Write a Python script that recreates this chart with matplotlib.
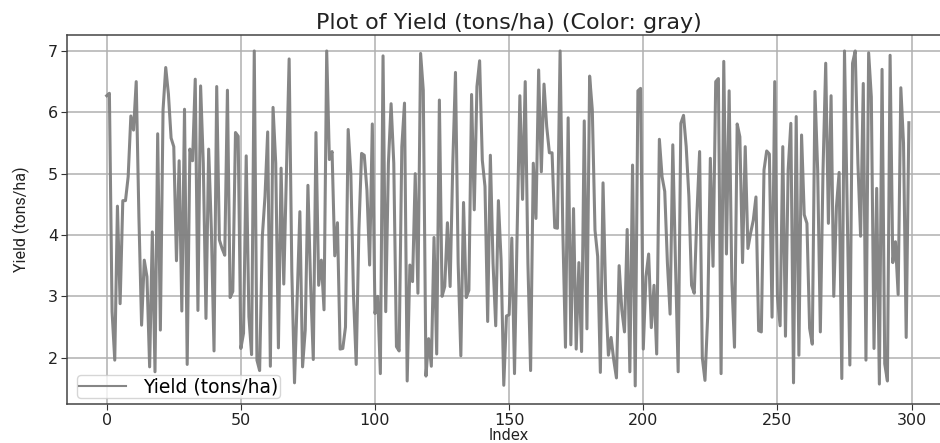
import matplotlib
matplotlib.use("Agg")
import matplotlib.pyplot as plt

series_name = "Yield (tons/ha)"
title = "Plot of Yield (tons/ha) (Color: gray)"
xlabel = "Index"
yield_a = [6.27,6.31,2.75,1.96,4.47,2.88,4.56,4.56,4.95,5.94,5.71,6.5,4.3,2.53,3.59,3.32,1.85,4.05,1.77,5.65,
 2.45,6.04,6.73,6.3,5.58,5.44,3.58,5.21,2.76,6.05,1.89,5.4,5.21,6.54,2.77,6.43,5.17,2.64,5.4,4.1,
 2.11,6.42,3.92,3.78,3.67,6.36,2.98,3.08,5.67,5.61,2.15,2.4,5.29,2.67,2.05,7.0,1.96,1.79,3.97,4.63,
 5.68,1.86,6.08,5.17,2.16,5.09,3.2,5.0,6.87,3.4,1.59,3.0,4.38,1.85,2.45,4.81,3.2,1.97,5.67,3.18]
yield_b = [3.59,2.78,7.0,5.23,5.36,3.66,4.2,2.14,2.15,2.5,5.72,5.0,3.0,1.89,4.08,5.33,5.3,4.73,3.51,5.81,
 2.72,3.0,1.74,6.92,2.75,5.17,6.14,5.17,2.18,2.11,5.44,6.15,1.62,3.51,3.24,5.0,3.05,6.96,6.36,1.7,
 2.31,1.86,3.96,2.06,6.2,3.0,3.16,4.2,3.16,5.17,6.65,3.54,2.03,4.53,2.98,3.1,6.29,4.41,6.42,6.84,
 5.22,4.79,2.59,5.3,3.54,2.52,4.56,3.59,1.55,2.68,2.7,3.95,1.74,4.08,6.27,4.58,6.5,3.54,1.79,5.17]
yield_c = [4.27,6.69,5.03,6.46,5.77,5.34,5.34,4.12,4.11,7.0,4.08,2.17,5.91,2.21,4.43,2.14,3.55,2.1,5.86,2.47,
 6.59,6.04,4.08,3.65,1.76,4.85,3.0,2.04,2.33,1.96,1.67,3.5,2.78,2.42,4.09,1.77,5.14,1.54,6.35,6.39,
 2.14,3.32,3.69,2.49,3.18,2.06,5.56,4.95,4.71,3.54,2.71,5.47,3.54,1.77,5.82,5.95,5.44,4.63,3.18,3.05,
 4.35,5.36,2.0,1.63,2.67,5.25,3.49,6.5,6.55,1.74,6.83,3.69,6.35,3.27,2.17,5.81,5.6,3.55,5.44,3.78]
yield_d = [4.03,4.24,4.62,2.44,2.42,5.06,5.37,5.32,2.66,6.5,3.0,2.52,5.44,2.35,5.06,5.82,1.59,5.93,2.04,5.63,
 4.33,4.19,2.48,2.22,6.34,5.06,2.42,5.06,6.8,4.19,6.27,3.0,4.46,5.02,1.66,7.0,4.46,1.88,6.8,7.0,
 5.17,3.98,6.47,1.96,6.97,6.25,2.15,4.76,1.57,6.7,1.9,1.62,6.93,3.55,3.89,3.03,6.4,5.5,2.33,5.83]
yields = yield_a + yield_b + yield_c + yield_d
index = list(range(len(yields)))

W, H = 940, 443
fig = plt.figure(figsize=(W/100, H/100), dpi=100)
L, R, T, B = 67, 951, 35, 404
ax = fig.add_axes([L/W, 1-B/H, (R-L)/W, (B-T)/H])
ax.plot(index, yields, color="gray", alpha=0.95, linewidth=2.2, label=series_name)
ax.set_xlim(-14.8, 314.7)
ax.set_ylim(1.245, 7.26)
ax.set_xticks([0,50,100,150,200,250,300])
ax.set_yticks([2,3,4,5,6,7])
ax.tick_params(labelsize=11.5, length=4, pad=2.5, color="#333333", labelcolor="#222222")
ax.grid(True, color="#b0b0b0", linewidth=1.1)
for s in ax.spines.values():
    s.set_color("#444444")
    s.set_linewidth(1.1)
ax.set_title(title, fontsize=16, pad=4, x=0.5, color="#222222")
ax.set_xlabel(xlabel, fontsize=10.5, labelpad=0, x=0.5, color="#222222")
ax.set_ylabel(series_name, fontsize=11.5, labelpad=13, family=["Roboto", "DejaVu Sans"], color="#222222")
leg = ax.legend(loc="lower left", fontsize=13.5, borderpad=0.1, handlelength=2.5, handletextpad=0.9,
                bbox_to_anchor=(10/884, 6/369), borderaxespad=0)
leg.get_lines()[0].set_linewidth(1.5)
fig.savefig("out.png", dpi=100)
